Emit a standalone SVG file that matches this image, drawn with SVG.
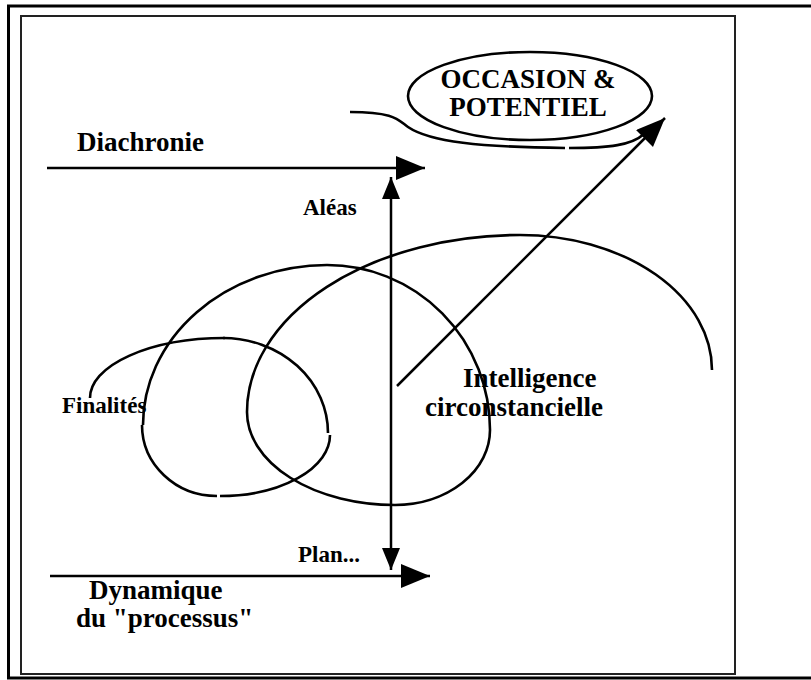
<svg xmlns="http://www.w3.org/2000/svg" width="811" height="680" viewBox="0 0 811 680">
<style>
.t{font-family:"Liberation Serif","Times New Roman",serif;font-weight:bold;fill:#000}
.big{font-size:27px}
.sm{font-size:23px}
.ln{fill:none;stroke:#000;stroke-width:2.5}
.cv{fill:none;stroke:#000;stroke-width:2.6}
</style>
<defs>
<marker id="ahBig" markerUnits="userSpaceOnUse" markerWidth="30" markerHeight="26" refX="29" refY="12" orient="auto-start-reverse"><path d="M0,0 L29,12 L0,24 z" fill="#000"/></marker>
<marker id="ahSm" markerUnits="userSpaceOnUse" markerWidth="24" markerHeight="20" refX="22" refY="9" orient="auto-start-reverse"><path d="M0,0 L22,9 L0,18 z" fill="#000"/></marker>
</defs>
<rect width="811" height="680" fill="#fff"/>
<g id="frame">
<rect x="8.5" y="6" width="810" height="672" fill="none" stroke="#000" stroke-width="3"/>
<rect x="21" y="16" width="714" height="658" fill="none" stroke="#222" stroke-width="2"/>
</g>
<g id="occasion">
<ellipse cx="530" cy="96" rx="122" ry="44" class="cv"/>
<text class="t big" x="528" y="88" text-anchor="middle">OCCASION &amp;</text>
<text class="t big" x="528" y="116" text-anchor="middle">POTENTIEL</text>
</g>
<g id="diachronie"><text class="t big" x="77" y="151">Diachronie</text></g>
<g id="aleas"><text class="t sm" x="303" y="215">Aléas</text></g>
<g id="finalites"><text class="t sm" x="62" y="413">Finalités</text></g>
<g id="intelligence">
<text class="t big" x="463" y="387">Intelligence</text>
<text class="t big" x="425" y="416">circonstancielle</text>
</g>
<g id="plan"><text class="t sm" x="298" y="562">Plan...</text></g>
<g id="dynamique">
<text class="t big" x="89" y="599">Dynamique</text>
<text class="t big" x="76" y="627">du "processus"</text>
</g>
<g id="spiral">
<path class="cv" d="M90,398 A135,60 0 0 1 225,338"/>
<path class="cv" d="M223,338 A105,95 0 0 1 328,433"/>
<path class="cv" d="M330,435 A110,61 0 0 1 220,496"/>
<path class="cv" d="M217,496 A75,71 0 0 1 142,425"/>
<path class="cv" d="M143,425 A185,160 0 0 1 327,265"/>
<path class="cv" d="M327,265 A163,165 0 0 1 490,430"/>
<path class="cv" d="M490,430 A95,75 0 0 1 395,505"/>
<path class="cv" d="M395,505 A148,93 0 0 1 247,412"/>
<path class="cv" d="M247,412 A273,177 0 0 1 520,235"/>
<path class="cv" d="M520,235 A192,135 0 0 1 712,370"/>
</g>
<g id="connectors">
<path class="cv" d="M350,112 C395,112 398,120 408,127 C430,142 480,147 565,148"/>
<path class="cv" d="M569,148 C610,148 632,145 644,134"/>
<line class="ln" x1="47" y1="168" x2="425" y2="168" marker-end="url(#ahBig)"/>
<line class="ln" x1="50" y1="576" x2="430" y2="576" marker-end="url(#ahBig)"/>
<line class="ln" x1="391" y1="177" x2="391" y2="570" marker-start="url(#ahSm)" marker-end="url(#ahSm)"/>
<line class="ln" x1="397" y1="386" x2="665" y2="118" marker-end="url(#ahBig)"/>
</g>
</svg>
